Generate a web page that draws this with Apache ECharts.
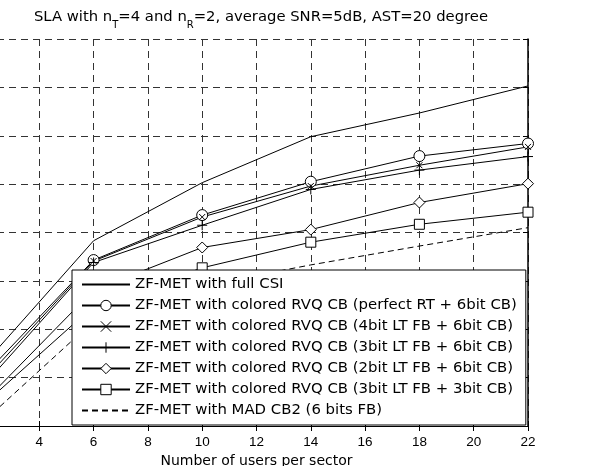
<!DOCTYPE html>
<html>
<head>
<meta charset="utf-8">
<script src="https://cdn.jsdelivr.net/npm/echarts@6/dist/echarts.min.js"></script>
<style>
html, body { margin: 0; padding: 0; background: #fff; }
#chart { width: 591px; height: 466px; }
</style>
</head>
<body>
<div id="chart"></div>
<script>
// users per sector
var users = [2, 6, 10, 14, 18, 22];
var fullCsi   = [1.30, 3.83, 5.03, 5.98, 6.47, 7.03];
var perfectRt = [1.07, 3.43, 4.36, 5.05, 5.58, 5.84];
var lt4Cb6    = [0.97, 3.41, 4.32, 4.96, 5.39, 5.77];
var lt3Cb6    = [0.87, 3.38, 4.15, 4.89, 5.29, 5.57];
var lt2Cb6    = [0.52, 2.81, 3.69, 4.06, 4.62, 5.01];
var lt3Cb3    = [0.47, 2.48, 3.27, 3.80, 4.17, 4.42];
var madCb2    = [0.12, 2.17, 2.90, 3.33, 3.72, 4.10];

var names = [
  'ZF-MET with full CSI',
  'ZF-MET with colored RVQ CB (perfect RT + 6bit CB)',
  'ZF-MET with colored RVQ CB (4bit LT FB + 6bit CB)',
  'ZF-MET with colored RVQ CB (3bit LT FB + 6bit CB)',
  'ZF-MET with colored RVQ CB (2bit LT FB + 6bit CB)',
  'ZF-MET with colored RVQ CB (3bit LT FB + 3bit CB)',
  'ZF-MET with MAD CB2 (6 bits FB)'
];

function pairs(arr) {
  return users.map(function (u, i) { return [u, arr[i]]; });
}

var font = 'Liberation Sans, Arial, sans-serif';
var wide = 'DejaVu Sans, sans-serif';
var mCircle = 'path://M10,5A5,5,0,1,1,0,5A5,5,0,1,1,10,5Z';
var mX = 'path://M0,0L10,10M10,0L0,10';
var mPlus = 'path://M5,0L5,10M0,5L10,5';
var mDiamond = 'path://M5,0L10,5L5,10L0,5Z';
var mSquare = 'path://M0,0L10,0L10,10L0,10Z';

function mkSeries(name, arr, symbol, size, dashed) {
  var plain = !symbol;
  return {
    name: name,
    type: 'line',
    data: pairs(arr),
    symbol: plain ? 'circle' : symbol,
    symbolSize: size,
    showSymbol: !plain,
    animation: false,
    lineStyle: { color: '#000', width: 1, type: dashed ? [6, 4] : 'solid' },
    itemStyle: plain
      ? { color: 'transparent', borderColor: 'transparent', borderWidth: 0 }
      : { color: '#fff', borderColor: '#000', borderWidth: 1 },
    emphasis: { disabled: true }
  };
}

var myChart = echarts.init(document.getElementById('chart'));
var option = {
  backgroundColor: '#fff',
  animation: false,
  title: {
    text: '{a|SLA with n}{s|T}{a|=4 and n}{s|R}{a|=2, average SNR=5dB, AST=20 degree}',
    left: 256,
    textAlign: 'center',
    top: 5,
    textStyle: {
      rich: {
        a: { fontFamily: wide, fontSize: 14.8, fontWeight: 'normal', color: '#000', verticalAlign: 'top', lineHeight: 20 },
        s: { fontFamily: wide, fontSize: 10, fontWeight: 'normal', color: '#000', verticalAlign: 'bottom', lineHeight: 20 }
      }
    }
  },
  grid: { left: -15, right: 63, top: 39, bottom: 40, outerBoundsMode: 'none' },
  legend: {
    orient: 'vertical',
    left: 72,
    top: 270,
    padding: [7, 9, 7, 9],
    itemWidth: 48,
    itemHeight: 13,
    itemGap: 6,
    backgroundColor: '#fff',
    borderColor: '#000',
    borderWidth: 1,
    selectedMode: false,
    itemStyle: { borderWidth: 1 },
    data: names,
    textStyle: { fontFamily: wide, fontSize: 14.9, color: '#000' }
  },
  xAxis: [
    {
      type: 'value',
      min: 2, max: 22, interval: 2,
      name: 'Number of users per sector',
      nameLocation: 'middle',
      nameGap: 28,
      nameTextStyle: { fontFamily: wide, fontSize: 14, color: '#000' },
      axisLine: { lineStyle: { color: '#000', width: 1 } },
      axisTick: { inside: true, length: 5, lineStyle: { color: '#000' } },
      axisLabel: { fontFamily: font, fontSize: 13.5, color: '#000', margin: 9 },
      splitLine: { show: true, lineStyle: { color: '#333', type: [7, 5], width: 1 } }
    },
    {
      type: 'value',
      position: 'top',
      min: 2, max: 22, interval: 2,
      axisLine: { lineStyle: { color: '#000', width: 1 } },
      axisTick: { inside: true, length: 5, lineStyle: { color: '#000' } },
      axisLabel: { show: false },
      splitLine: { show: false }
    }
  ],
  yAxis: [
    {
      type: 'value',
      min: 0, max: 8, interval: 1,
      axisLine: { show: true, lineStyle: { color: '#000' } },
      axisTick: { inside: true, length: 5 },
      axisLabel: { show: false },
      splitLine: { show: true, lineStyle: { color: '#333', type: [7, 5], width: 1 } }
    },
    {
      type: 'value',
      position: 'right',
      min: 0, max: 8, interval: 1,
      axisLine: { show: true, lineStyle: { color: '#000', width: 1.5 } },
      axisTick: { inside: true, length: 5, lineStyle: { color: '#000' } },
      axisLabel: { show: false },
      splitLine: { show: false }
    }
  ],
  series: [
    mkSeries(names[0], fullCsi, null, 0, false),
    mkSeries(names[1], perfectRt, mCircle, 11, false),
    mkSeries(names[2], lt4Cb6, mX, 6, false),
    mkSeries(names[3], lt3Cb6, mPlus, 10, false),
    mkSeries(names[4], lt2Cb6, mDiamond, 11, false),
    mkSeries(names[5], lt3Cb3, mSquare, 10, false),
    mkSeries(names[6], madCb2, null, 0, true)
  ]
};
myChart.setOption(option);
</script>
</body>
</html>
